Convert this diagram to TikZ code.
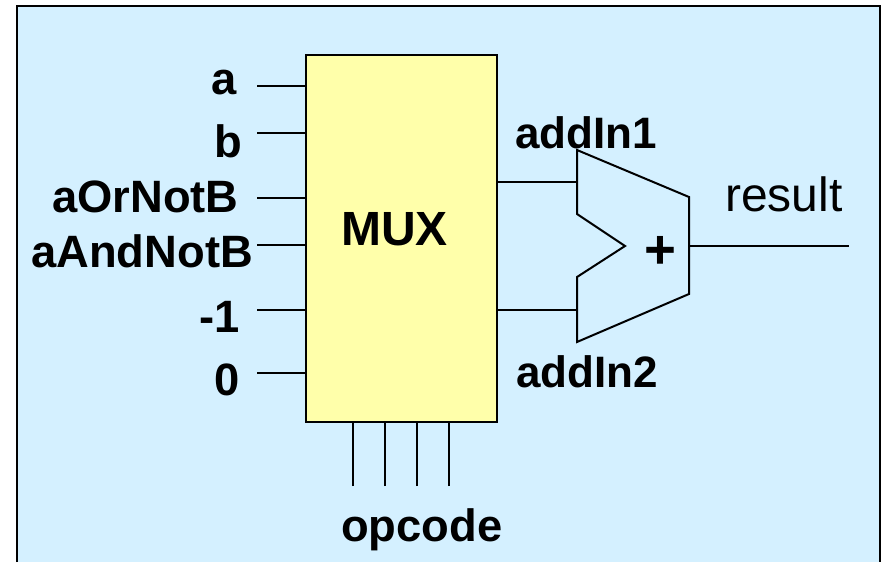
\documentclass[tikz,border=0pt]{standalone}
\usepackage{fontspec}
\setmainfont{Liberation Sans}
\begin{document}
\begin{tikzpicture}[x=0.75pt,y=-0.75pt,
  wire/.style={line width=1.5pt,black},
  lbl/.style={inner sep=0pt,anchor=base west,font=\fontsize{34}{36}\selectfont\bfseries},
  plainlbl/.style={inner sep=0pt,anchor=base west,font=\fontsize{36}{38}\selectfont}]
\useasboundingbox (0,0) rectangle (881,562);
\fill[white] (0,0) rectangle (881,562);
\fill[fill={rgb,255:red,212;green,240;blue,255}] (17,6) rectangle (880,562);
\draw[line width=2pt,line cap=butt] (17,562) -- (17,6) -- (880,6) -- (880,562);
\node[draw,wire,fill={rgb,255:red,255;green,255;blue,170},minimum width=143.5pt,minimum height=275.5pt,inner sep=0pt,anchor=north west] (mux) at (304.5,53.5) {};
\node[lbl,font=\fontsize{36}{38}\selectfont\bfseries] (muxt) at (341,245) {MUX};
\node[lbl] (la) at (211,94) {a};
\node[lbl] (lb) at (214,157) {b};
\node[lbl] (lc) at (52,212) {aOrNotB};
\node[lbl] (ld) at (31,267) {aAndNotB};
\node[lbl] (le) at (199,332) {-1};
\node[lbl] (lf) at (214,395) {0};
\node[lbl,font=\fontsize{33}{36}\selectfont\bfseries] (add1) at (515,148) {addIn1};
\node[lbl,font=\fontsize{33}{36}\selectfont\bfseries] (add2) at (516,387) {addIn2};
\node[plainlbl] (res) at (725,211) {result};
\node[lbl] (op) at (341,541) {opcode};
\node[lbl,font=\fontsize{41}{44}\selectfont\bfseries] (plus) at (644,268) {+};
\coordinate (ia) at (257,86); \coordinate (ib) at (257,133);
\coordinate (ic) at (257,198); \coordinate (id) at (257,245);
\coordinate (ie) at (257,310); \coordinate (if) at (257,373);
\foreach \c in {ia,ib,ic,id,ie,if} \draw[wire] (\c) -- (\c -| mux.west);
\coordinate (o1) at (353,486); \coordinate (o2) at (385,486);
\coordinate (o3) at (417,486); \coordinate (o4) at (449,486);
\foreach \c in {o1,o2,o3,o4} \draw[wire] (\c) -- (\c |- mux.south);
\coordinate (a1) at (577,150); \coordinate (a2) at (689,197);
\coordinate (a3) at (689,294); \coordinate (a4) at (577,342);
\coordinate (a5) at (577,277); \coordinate (a6) at (625,246);
\coordinate (a7) at (577,214);
\draw[wire,line join=miter] (a1) -- (a2) -- (a3) -- (a4) -- (a5) -- (a6) -- (a7) -- cycle;
\coordinate (in1) at (577,182); \coordinate (in2) at (577,310);
\draw[wire] (in1 -| mux.east) -- (in1);
\draw[wire] (in2 -| mux.east) -- (in2);
\coordinate (outp) at (689,246); \coordinate (oute) at (849,246);
\draw[wire] (outp) -- (oute);
\end{tikzpicture}
\end{document}
